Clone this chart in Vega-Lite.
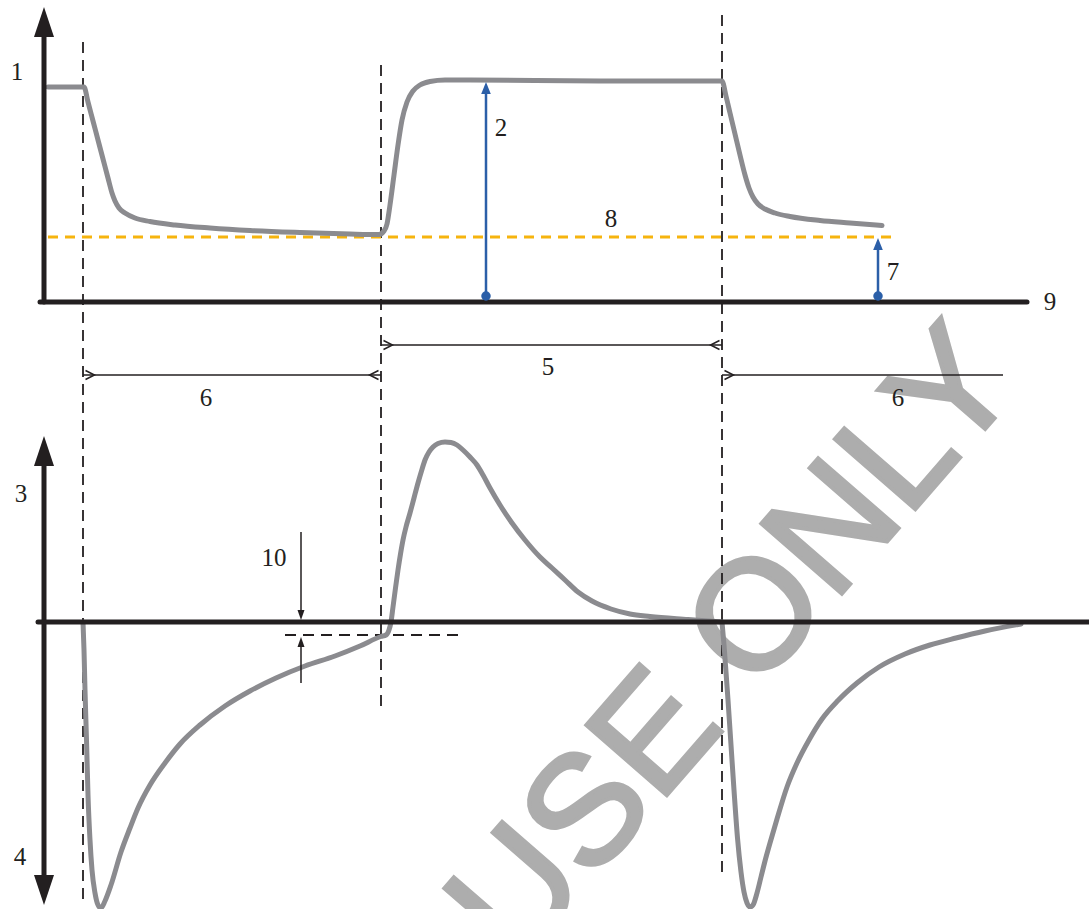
{
  "$schema": "https://vega.github.io/schema/vega-lite/v6.json",
  "width": 1089,
  "height": 909,
  "autosize": {"type": "fit", "contains": "padding"},
  "padding": 0,
  "background": "white",
  "config": {"view": {"stroke": null}},
  "encoding": {
    "x": {"field": "x", "type": "quantitative", "scale": {"domain": [0, 1089], "nice": false, "zero": false}, "axis": null},
    "y": {"field": "y", "type": "quantitative", "scale": {"domain": [0, 909], "reverse": true, "nice": false, "zero": false}, "axis": null}
  },
  "datasets": {
    "watermark": [{"x": 735, "y": 645, "text": "USE ONLY"}],
    "guides": [
      {"x": 83, "y": 42, "x2": 83, "y2": 900},
      {"x": 381, "y": 65, "x2": 381, "y2": 712},
      {"x": 722, "y": 15, "x2": 722, "y2": 875},
      {"x": 285, "y": 635, "x2": 462, "y2": 635}
    ],
    "threshold": [{"x": 48, "y": 237, "x2": 893, "y2": 237}],
    "curves": [
      {"seg": "top", "x": 48, "y": 87}, {"seg": "top", "x": 84, "y": 87}, {"seg": "top", "x": 88, "y": 102},
      {"seg": "top", "x": 93, "y": 121}, {"seg": "top", "x": 98, "y": 140}, {"seg": "top", "x": 103, "y": 159},
      {"seg": "top", "x": 108, "y": 178}, {"seg": "top", "x": 112, "y": 193}, {"seg": "top", "x": 115, "y": 201},
      {"seg": "top", "x": 119, "y": 208}, {"seg": "top", "x": 125, "y": 213}, {"seg": "top", "x": 135, "y": 218},
      {"seg": "top", "x": 150, "y": 221.5}, {"seg": "top", "x": 175, "y": 225}, {"seg": "top", "x": 210, "y": 228},
      {"seg": "top", "x": 250, "y": 230.5}, {"seg": "top", "x": 300, "y": 232.5}, {"seg": "top", "x": 350, "y": 234},
      {"seg": "top", "x": 379, "y": 234.5}, {"seg": "top", "x": 384, "y": 231}, {"seg": "top", "x": 387, "y": 224},
      {"seg": "top", "x": 390, "y": 205}, {"seg": "top", "x": 394, "y": 175}, {"seg": "top", "x": 398, "y": 145},
      {"seg": "top", "x": 402, "y": 120}, {"seg": "top", "x": 407, "y": 102}, {"seg": "top", "x": 413, "y": 91},
      {"seg": "top", "x": 420, "y": 85}, {"seg": "top", "x": 430, "y": 81.5}, {"seg": "top", "x": 445, "y": 80},
      {"seg": "top", "x": 470, "y": 80}, {"seg": "top", "x": 600, "y": 81}, {"seg": "top", "x": 722, "y": 81},
      {"seg": "top", "x": 726, "y": 96}, {"seg": "top", "x": 730, "y": 113}, {"seg": "top", "x": 735, "y": 134},
      {"seg": "top", "x": 740, "y": 155}, {"seg": "top", "x": 745, "y": 175}, {"seg": "top", "x": 749, "y": 188},
      {"seg": "top", "x": 753, "y": 197}, {"seg": "top", "x": 758, "y": 204}, {"seg": "top", "x": 765, "y": 209},
      {"seg": "top", "x": 775, "y": 213}, {"seg": "top", "x": 790, "y": 216.5}, {"seg": "top", "x": 820, "y": 220.5},
      {"seg": "top", "x": 850, "y": 223}, {"seg": "top", "x": 882, "y": 225.5},

      {"seg": "rate1", "x": 83, "y": 622}, {"seg": "rate1", "x": 84, "y": 650}, {"seg": "rate1", "x": 85, "y": 690},
      {"seg": "rate1", "x": 86.5, "y": 740}, {"seg": "rate1", "x": 88, "y": 795}, {"seg": "rate1", "x": 90, "y": 840},
      {"seg": "rate1", "x": 92, "y": 870}, {"seg": "rate1", "x": 95, "y": 893}, {"seg": "rate1", "x": 98, "y": 905},
      {"seg": "rate1", "x": 101, "y": 908}, {"seg": "rate1", "x": 105, "y": 901}, {"seg": "rate1", "x": 111, "y": 885},
      {"seg": "rate1", "x": 121, "y": 852}, {"seg": "rate1", "x": 130, "y": 828}, {"seg": "rate1", "x": 138, "y": 808},
      {"seg": "rate1", "x": 150, "y": 785}, {"seg": "rate1", "x": 165, "y": 763}, {"seg": "rate1", "x": 180, "y": 744},
      {"seg": "rate1", "x": 200, "y": 725}, {"seg": "rate1", "x": 225, "y": 706}, {"seg": "rate1", "x": 250, "y": 691},
      {"seg": "rate1", "x": 276, "y": 678}, {"seg": "rate1", "x": 305, "y": 666}, {"seg": "rate1", "x": 335, "y": 656},
      {"seg": "rate1", "x": 360, "y": 646}, {"seg": "rate1", "x": 381, "y": 636.5}, {"seg": "rate1", "x": 386, "y": 635},
      {"seg": "rate1", "x": 389, "y": 630}, {"seg": "rate1", "x": 391, "y": 622}, {"seg": "rate1", "x": 393, "y": 607},
      {"seg": "rate1", "x": 395.5, "y": 588}, {"seg": "rate1", "x": 398, "y": 570}, {"seg": "rate1", "x": 400.5, "y": 554},
      {"seg": "rate1", "x": 403, "y": 540}, {"seg": "rate1", "x": 406, "y": 527}, {"seg": "rate1", "x": 410, "y": 513},
      {"seg": "rate1", "x": 414, "y": 498}, {"seg": "rate1", "x": 418, "y": 483}, {"seg": "rate1", "x": 421.5, "y": 471},
      {"seg": "rate1", "x": 425, "y": 460}, {"seg": "rate1", "x": 429, "y": 452}, {"seg": "rate1", "x": 433, "y": 447},
      {"seg": "rate1", "x": 438, "y": 443.5}, {"seg": "rate1", "x": 445, "y": 442}, {"seg": "rate1", "x": 451, "y": 442.5},
      {"seg": "rate1", "x": 457, "y": 445}, {"seg": "rate1", "x": 463, "y": 450}, {"seg": "rate1", "x": 470, "y": 457},
      {"seg": "rate1", "x": 477, "y": 465}, {"seg": "rate1", "x": 483, "y": 475}, {"seg": "rate1", "x": 490, "y": 488},
      {"seg": "rate1", "x": 500, "y": 505}, {"seg": "rate1", "x": 512, "y": 523}, {"seg": "rate1", "x": 525, "y": 540},
      {"seg": "rate1", "x": 540, "y": 557}, {"seg": "rate1", "x": 552, "y": 568}, {"seg": "rate1", "x": 565, "y": 580},
      {"seg": "rate1", "x": 578, "y": 592}, {"seg": "rate1", "x": 592, "y": 601}, {"seg": "rate1", "x": 611, "y": 609},
      {"seg": "rate1", "x": 630, "y": 614}, {"seg": "rate1", "x": 650, "y": 616.5}, {"seg": "rate1", "x": 688, "y": 619.5},
      {"seg": "rate1", "x": 722, "y": 622},

      {"seg": "rate2", "x": 722, "y": 622}, {"seg": "rate2", "x": 724, "y": 645}, {"seg": "rate2", "x": 726, "y": 672},
      {"seg": "rate2", "x": 728, "y": 700}, {"seg": "rate2", "x": 731, "y": 745}, {"seg": "rate2", "x": 734, "y": 790},
      {"seg": "rate2", "x": 737.5, "y": 838}, {"seg": "rate2", "x": 741, "y": 872}, {"seg": "rate2", "x": 744, "y": 892},
      {"seg": "rate2", "x": 747, "y": 903}, {"seg": "rate2", "x": 750, "y": 907}, {"seg": "rate2", "x": 753, "y": 905},
      {"seg": "rate2", "x": 757, "y": 893}, {"seg": "rate2", "x": 761, "y": 877}, {"seg": "rate2", "x": 765, "y": 861},
      {"seg": "rate2", "x": 770, "y": 843}, {"seg": "rate2", "x": 777, "y": 819}, {"seg": "rate2", "x": 787, "y": 787},
      {"seg": "rate2", "x": 797, "y": 763}, {"seg": "rate2", "x": 809, "y": 740}, {"seg": "rate2", "x": 822, "y": 719},
      {"seg": "rate2", "x": 838, "y": 700.5}, {"seg": "rate2", "x": 857, "y": 683}, {"seg": "rate2", "x": 879, "y": 667},
      {"seg": "rate2", "x": 905, "y": 654}, {"seg": "rate2", "x": 930, "y": 645}, {"seg": "rate2", "x": 956, "y": 638},
      {"seg": "rate2", "x": 985, "y": 631}, {"seg": "rate2", "x": 1021, "y": 624}
    ],
    "axes": [
      {"x": 44, "y": 302, "x2": 44, "y2": 37},
      {"x": 40, "y": 302, "x2": 1027, "y2": 302},
      {"x": 44, "y": 466, "x2": 44, "y2": 875},
      {"x": 38, "y": 622, "x2": 1092, "y2": 622}
    ],
    "axisHeadsUp": [{"x": 44, "y": 22}, {"x": 44, "y": 451}],
    "axisHeadsDown": [{"x": 44, "y": 890}],
    "spans": [
      {"x": 381, "y": 345, "x2": 722, "y2": 345},
      {"x": 83, "y": 375, "x2": 381, "y2": 375},
      {"x": 722, "y": 375, "x2": 1003, "y2": 375},
      {"x": 301, "y": 532, "x2": 301, "y2": 612},
      {"x": 301, "y": 683, "x2": 301, "y2": 645}
    ],
    "spanStarts": [{"x": 388, "y": 345}, {"x": 90, "y": 375}, {"x": 729, "y": 375}],
    "spanEnds": [{"x": 715, "y": 345}, {"x": 374, "y": 375}],
    "offsetHeadDown": [{"x": 301, "y": 615}],
    "offsetHeadUp": [{"x": 301, "y": 642}],
    "levels": [
      {"x": 486, "y": 296, "x2": 486, "y2": 93},
      {"x": 878, "y": 296, "x2": 878, "y2": 249}
    ],
    "levelHeads": [{"x": 486, "y": 88}, {"x": 878, "y": 244}],
    "levelDots": [{"x": 486, "y": 296}, {"x": 878, "y": 296}],
    "labels": [
      {"x": 17, "y": 72, "text": "1"},
      {"x": 501, "y": 128, "text": "2"},
      {"x": 21, "y": 494, "text": "3"},
      {"x": 20, "y": 857, "text": "4"},
      {"x": 548, "y": 367, "text": "5"},
      {"x": 206, "y": 398, "text": "6"},
      {"x": 898, "y": 398, "text": "6"},
      {"x": 893, "y": 272, "text": "7"},
      {"x": 611, "y": 219, "text": "8"},
      {"x": 1050, "y": 302, "text": "9"},
      {"x": 274, "y": 558, "text": "10"}
    ]
  },
  "layer": [
    {
      "data": {"name": "watermark"},
      "mark": {"type": "text", "font": "Liberation Sans", "fontSize": 155, "angle": -49, "align": "center", "baseline": "middle", "color": "#adadad", "stroke": "#adadad", "strokeWidth": 4, "clip": true},
      "encoding": {"text": {"field": "text"}}
    },
    {
      "data": {"name": "guides"},
      "mark": {"type": "rule", "color": "#231f20", "strokeWidth": 1.8, "strokeDash": [11, 7]},
      "encoding": {"x2": {"field": "x2"}, "y2": {"field": "y2"}}
    },
    {
      "data": {"name": "threshold"},
      "mark": {"type": "rule", "color": "#f6b40e", "strokeWidth": 3, "strokeDash": [10, 7]},
      "encoding": {"x2": {"field": "x2"}, "y2": {"field": "y2"}}
    },
    {
      "data": {"name": "curves"},
      "mark": {"type": "line", "color": "#8b8b8f", "strokeWidth": 5, "interpolate": "monotone", "strokeCap": "round", "strokeJoin": "round", "clip": true},
      "encoding": {"detail": {"field": "seg"}, "order": {"field": "x", "type": "quantitative"}}
    },
    {
      "data": {"name": "axes"},
      "mark": {"type": "rule", "color": "#231f20", "strokeWidth": 5, "strokeCap": "round", "clip": true},
      "encoding": {"x2": {"field": "x2"}, "y2": {"field": "y2"}}
    },
    {
      "data": {"name": "axisHeadsUp"},
      "mark": {"type": "point", "shape": "M0,-1L0.667,1L-0.667,1Z", "size": 900, "filled": true, "color": "#231f20", "opacity": 1}
    },
    {
      "data": {"name": "axisHeadsDown"},
      "mark": {"type": "point", "shape": "M0,1L0.667,-1L-0.667,-1Z", "size": 900, "filled": true, "color": "#231f20", "opacity": 1}
    },
    {
      "data": {"name": "spans"},
      "mark": {"type": "rule", "color": "#231f20", "strokeWidth": 1.5},
      "encoding": {"x2": {"field": "x2"}, "y2": {"field": "y2"}}
    },
    {
      "data": {"name": "spanStarts"},
      "mark": {"type": "point", "shape": "M-1,-1L1,0L-1,1", "size": 81, "filled": false, "color": "#231f20", "strokeWidth": 1.5, "opacity": 1}
    },
    {
      "data": {"name": "spanEnds"},
      "mark": {"type": "point", "shape": "M1,-1L-1,0L1,1", "size": 81, "filled": false, "color": "#231f20", "strokeWidth": 1.5, "opacity": 1}
    },
    {
      "data": {"name": "offsetHeadDown"},
      "mark": {"type": "point", "shape": "M0,1L0.7,-1L-0.7,-1Z", "size": 100, "filled": true, "color": "#231f20", "opacity": 1}
    },
    {
      "data": {"name": "offsetHeadUp"},
      "mark": {"type": "point", "shape": "M0,-1L0.7,1L-0.7,1Z", "size": 100, "filled": true, "color": "#231f20", "opacity": 1}
    },
    {
      "data": {"name": "levels"},
      "mark": {"type": "rule", "color": "#2b5fa8", "strokeWidth": 2.5},
      "encoding": {"x2": {"field": "x2"}, "y2": {"field": "y2"}}
    },
    {
      "data": {"name": "levelHeads"},
      "mark": {"type": "point", "shape": "M0,-1L0.8,1L-0.8,1Z", "size": 144, "filled": true, "color": "#2b5fa8", "opacity": 1}
    },
    {
      "data": {"name": "levelDots"},
      "mark": {"type": "point", "shape": "circle", "size": 90, "filled": true, "color": "#2b5fa8", "opacity": 1}
    },
    {
      "data": {"name": "labels"},
      "mark": {"type": "text", "font": "Liberation Serif", "fontSize": 25, "align": "center", "baseline": "middle", "color": "#231f20"},
      "encoding": {"text": {"field": "text"}}
    }
  ]
}
